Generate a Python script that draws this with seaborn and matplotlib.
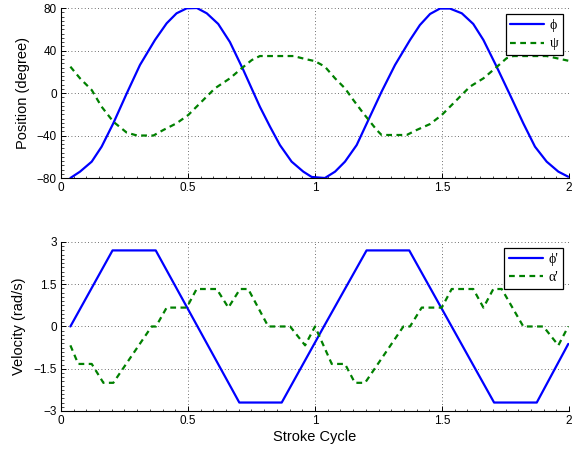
import numpy as np
import pandas as pd
import matplotlib
matplotlib.use("Agg")
import matplotlib.pyplot as plt
import seaborn as sns
from matplotlib.ticker import AutoMinorLocator

# stroke cycle positions
phi_x = [0.037, 0.075, 0.121, 0.160, 0.206, 0.259, 0.311, 0.370, 0.416, 0.455,
         0.495, 0.535, 0.574, 0.619, 0.665, 0.718, 0.783, 0.823, 0.862, 0.908,
         0.954, 0.987, 1.039, 1.079, 1.118, 1.164, 1.210, 1.262, 1.315, 1.374,
         1.413, 1.453, 1.492, 1.531, 1.578, 1.623, 1.663, 1.715, 1.768, 1.820,
         1.866, 1.912, 1.958, 1.997]
phi_pos = [-80, -74, -64.6, -50.5, -28.5, -0.3, 26.4, 49.9, 65.6, 75,
           79.7, 80, 75, 65, 48, 21.6, -12.9, -31.7, -49, -64.6,
           -74, -79, -80, -74, -64.6, -49, -25.4, 1.2, 26.4, 49.9,
           64, 74.4, 79.5, 79.5, 75, 65, 49.9, 24.8, -1.9, -28.5,
           -50.5, -64.6, -74, -78.8]

psi_x = [0.037, 0.075, 0.121, 0.160, 0.206, 0.259, 0.300, 0.364, 0.403, 0.455,
         0.501, 0.547, 0.606, 0.665, 0.711, 0.751, 0.783, 0.915, 0.967, 1.000,
         1.039, 1.079, 1.118, 1.151, 1.190, 1.243, 1.262, 1.361, 1.400, 1.453,
         1.499, 1.551, 1.610, 1.663, 1.709, 1.754, 1.781, 1.912, 1.997]
psi_pos = [24.8, 13.8, 2.8, -12.9, -27, -37.3, -40, -40, -34.8, -28.5,
           -20.7, -9.7, 4.4, 13.8, 23.2, 31, 34.8, 34.8, 31.7, 30,
           24.8, 13.8, 4.4, -6.6, -19, -34.8, -39.5, -39.5, -34.8, -29.2,
           -20.7, -8.2, 6, 13.8, 23.2, 32.7, 34.8, 34.8, 30.4]

dphi_x = [0.037, 0.203, 0.373, 0.702, 0.869, 1.035, 1.203, 1.371, 1.705, 1.873, 1.997]
dphi_vel = [0, 2.7, 2.7, -2.7, -2.7, 0, 2.7, 2.7, -2.7, -2.7, -0.62]

dalpha_x = [0.037, 0.068, 0.121, 0.167, 0.206, 0.357, 0.374, 0.416, 0.495, 0.534,
            0.613, 0.659, 0.705, 0.737, 0.816, 0.902, 0.961, 1.000, 1.066, 1.118,
            1.157, 1.197, 1.348, 1.374, 1.420, 1.499, 1.538, 1.623, 1.663, 1.702,
            1.735, 1.820, 1.899, 1.958, 1.997]
dalpha_vel = [-0.67, -1.33, -1.33, -2.0, -2.0, 0, 0, 0.67, 0.67, 1.33,
              1.33, 0.67, 1.33, 1.33, 0, 0, -0.67, 0, -1.33, -1.33,
              -2.0, -2.0, 0, 0, 0.67, 0.67, 1.33, 1.33, 0.67, 1.33,
              1.33, 0, 0, -0.67, 0]

x_ticks = [0, 0.5, 1, 1.5, 2]
x_ticklabels = ["0", "0.5", "1", "1.5", "2"]
pos_ticks = [-80, -40, 0, 40, 80]
vel_ticks = [-3, -1.5, 0, 1.5, 3]
vel_ticklabels = ["\u22123", "\u22121.5", "0", "1.5", "3"]

BLUE = (0, 0, 1)
GREEN = (0, 0.5, 0)

sns.set_style("ticks", {"text.color": "black", "axes.labelcolor": "black",
                        "xtick.color": "black", "ytick.color": "black",
                        "axes.edgecolor": "black"})
plt.rcParams["font.family"] = ["Liberation Sans", "DejaVu Sans"]
plt.rcParams["axes.unicode_minus"] = True

fig = plt.figure(figsize=(5.72, 4.5), dpi=100)
ax1 = fig.add_axes([0.1066, 0.6044, 0.8882, 0.3778])
ax2 = fig.add_axes([0.1066, 0.0867, 0.8882, 0.3756])

greek = ["Liberation Serif", "DejaVu Serif"]


def style_axes(ax):
    for s in ["top", "right"]:
        ax.spines[s].set_visible(False)
    for s in ["left", "bottom"]:
        ax.spines[s].set_linewidth(0.8)
        ax.spines[s].set_color("black")
    ax.set_xlim(0, 2)
    ax.set_xticks(x_ticks)
    ax.set_xticklabels(x_ticklabels)
    ax.xaxis.set_minor_locator(AutoMinorLocator(10))
    ax.yaxis.set_minor_locator(AutoMinorLocator(10))
    ax.tick_params(which="major", direction="in", length=3.5, width=0.7,
                   labelsize=8.5, pad=3, colors="black")
    ax.tick_params(which="minor", direction="in", length=1.8, width=0.5)
    ax.grid(True, which="major", color="0.25", linestyle=(0, (1, 3)),
            linewidth=0.6)
    ax.set_axisbelow(True)


# top: positions
sns.lineplot(x=phi_x, y=phi_pos, ax=ax1, color=BLUE, linewidth=1.6,
             sort=False, estimator=None, label="\u03d5")
sns.lineplot(x=psi_x, y=psi_pos, ax=ax1, color=GREEN, linewidth=1.6,
             sort=False, estimator=None, label="\u03c8")
ax1.lines[1].set_dashes((2.6, 2.0))
style_axes(ax1)
ax1.set_ylim(-80, 80)
ax1.set_yticks(pos_ticks)
ax1.set_ylabel("Position (degree)", fontsize=10.5, labelpad=5)
ax1.set_xlabel("")

# bottom: velocities
sns.lineplot(x=dphi_x, y=dphi_vel, ax=ax2, color=BLUE, linewidth=1.6,
             sort=False, estimator=None, label="\u03d5'")
sns.lineplot(x=dalpha_x, y=dalpha_vel, ax=ax2, color=GREEN, linewidth=1.6,
             sort=False, estimator=None, label="\u03b1'")
ax2.lines[1].set_dashes((2.6, 2.0))
style_axes(ax2)
ax2.set_ylim(-3, 3)
ax2.set_yticks(vel_ticks)
ax2.set_yticklabels(vel_ticklabels)
ax2.set_ylabel("Velocity (rad/s)", fontsize=10.5, labelpad=5)
ax2.set_xlabel("Stroke Cycle", fontsize=10.5, labelpad=2)

for ax in (ax1, ax2):
    leg = ax.legend(loc="upper right", bbox_to_anchor=(0.988, 0.965),
                    borderaxespad=0, fancybox=False, framealpha=1,
                    edgecolor="black", handlelength=2.4, handletextpad=0.4,
                    borderpad=0.35, labelspacing=0.4,
                    prop={"family": greek, "size": 10})
    leg.get_frame().set_linewidth(0.9)

fig.savefig("out.png", dpi=100)
